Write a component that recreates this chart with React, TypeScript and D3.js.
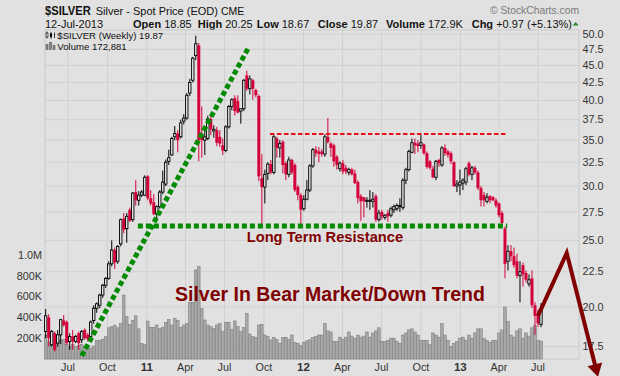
import React from 'react';
import * as d3 from 'd3';

// ---------- data (weekly, $SILVER, week starting Monday) ----------
const firstWeek = Date.UTC(2010, 4, 10);
const opens = [
  18.4, 19.3, 17.6, 18.3, 17.7, 18.2, 19.1, 19.0, 17.8, 18.1, 17.8, 18.3, 17.9, 18.5, 18.2, 18.1, 19.1, 19.9, 20.1, 20.8,
  21.5, 22.0, 23.1, 24.2, 23.3, 24.7, 26.9, 26.0, 27.7, 26.8, 29.4, 28.6, 29.1, 29.1, 31.0, 28.8, 28.4, 27.3, 28.0, 29.4,
  30.2, 32.6, 33.3, 35.4, 35.8, 35.4, 37.3, 37.7, 41.0, 42.8, 46.5, 48.1, 35.5, 35.0, 35.2, 37.6, 36.1, 36.2, 35.4, 34.4,
  33.8, 36.6, 39.2, 40.3, 39.9, 38.6, 38.9, 43.5, 41.6, 42.8, 41.4, 40.6, 30.8, 29.9, 31.3, 32.3, 31.4, 35.2, 34.1, 34.8,
  32.4, 31.2, 32.75, 32.2, 29.9, 29.1, 27.8, 28.7, 29.6, 32.1, 33.9, 33.7, 33.7, 33.4, 35.4, 34.6, 34.4, 33.1, 31.8, 32.4,
  31.9, 31.4, 31.7, 31.3, 30.4, 29.0, 28.9, 28.5, 28.5, 28.5, 29.0, 26.8, 27.5, 27.0, 27.4, 27.2, 27.7, 27.8, 28.0, 27.9,
  30.6, 31.7, 33.6, 34.7, 34.6, 34.4, 34.5, 33.5, 32.6, 31.8, 30.9, 32.75, 32.2, 34.1, 33.7, 33.5, 32.5, 30.0, 30.1, 30.3,
  30.4, 32.4, 31.2, 31.9, 31.4, 29.8, 29.1, 28.5, 29.0, 28.9, 28.6, 28.3, 27.4, 26.0, 23.3, 24.1, 23.7, 23.3, 22.2, 23.0,
  22.4, 21.6, 22.0, 20.1, 19.5, 18.85,
];
const highs = [
  19.85, 19.5, 18.5, 18.4, 18.5, 19.2, 19.45, 19.1, 18.3, 18.5, 18.2, 18.4, 18.5, 18.6, 18.3, 19.1, 20.1, 20.3, 20.9, 21.6,
  22.1, 23.3, 25.0, 24.4, 24.6, 26.9, 27.4, 27.4, 27.9, 29.4, 30.6, 29.5, 29.6, 31.1, 31.1, 29.6, 29.2, 28.1, 29.6, 31.6,
  32.8, 33.9, 35.4, 36.7, 36.2, 37.5, 38.2, 41.0, 43.0, 46.3, 49.7, 48.5, 39.2, 36.5, 38.0, 38.2, 36.8, 36.6, 36.2, 35.2,
  36.8, 39.4, 40.3, 40.7, 40.7, 38.9, 43.0, 44.2, 43.5, 43.0, 41.6, 40.8, 33.4, 31.7, 32.5, 32.75, 35.6, 35.4, 35.0, 35.0,
  32.6, 33.1, 32.9, 32.4, 30.1, 29.3, 29.1, 30.6, 32.3, 34.1, 34.3, 34.2, 34.0, 35.7, 37.7, 34.8, 34.6, 33.3, 32.6, 32.75,
  32.2, 31.9, 31.9, 31.7, 30.6, 29.2, 28.9, 28.9, 29.6, 29.4, 29.2, 27.7, 27.7, 27.3, 27.7, 28.0, 28.2, 28.3, 28.8, 30.8,
  31.9, 33.9, 35.2, 35.2, 35.0, 35.6, 34.6, 33.7, 32.75, 32.1, 32.75, 32.9, 34.3, 34.5, 33.9, 33.7, 32.6, 30.6, 31.7, 30.8,
  32.0, 32.6, 32.1, 32.1, 31.6, 30.0, 29.4, 29.3, 29.1, 29.0, 28.8, 28.4, 27.6, 26.2, 24.6, 24.6, 24.4, 23.9, 23.3, 23.2,
  22.6, 22.3, 22.6, 20.3, 19.8, 20.25,
];
const lows = [
  18.0, 17.5, 17.5, 17.2, 17.5, 17.65, 18.7, 17.6, 17.3, 17.3, 17.7, 17.3, 17.7, 17.9, 17.8, 17.9, 18.9, 19.6, 19.9, 20.6,
  21.3, 21.9, 22.9, 22.7, 23.1, 24.5, 25.6, 24.8, 26.6, 26.6, 28.1, 28.1, 28.9, 29.0, 28.6, 28.1, 27.2, 26.7, 27.8, 29.2,
  30.0, 32.2, 33.2, 35.0, 33.6, 35.2, 36.9, 37.5, 40.6, 42.5, 45.8, 32.6, 33.0, 33.3, 35.0, 35.6, 35.3, 34.3, 34.2, 33.3,
  33.6, 36.4, 38.7, 38.0, 38.3, 37.0, 38.6, 41.3, 40.8, 40.1, 40.4, 30.5, 26.2, 28.3, 30.6, 31.2, 31.2, 33.0, 33.0, 31.3,
  30.6, 30.9, 31.2, 29.4, 28.6, 26.4, 27.6, 28.6, 29.4, 31.9, 33.1, 32.5, 33.1, 33.1, 34.6, 33.1, 32.0, 31.7, 31.5, 31.2,
  31.2, 31.1, 31.1, 30.2, 28.3, 26.7, 27.0, 27.9, 27.7, 27.9, 26.6, 26.6, 26.8, 26.8, 26.6, 27.0, 27.4, 27.6, 27.5, 27.7,
  30.2, 31.5, 33.5, 33.4, 33.6, 34.0, 33.3, 31.8, 31.7, 30.8, 30.6, 32.0, 32.0, 33.2, 33.0, 32.3, 29.9, 29.4, 29.1, 29.6,
  30.1, 31.0, 30.6, 31.2, 29.6, 28.0, 28.0, 28.3, 28.3, 28.5, 27.9, 27.0, 26.2, 22.0, 22.6, 23.3, 22.8, 22.0, 20.3, 21.4,
  21.7, 21.4, 19.9, 18.2, 18.7, 18.67,
];
const closes = [
  19.4, 18.0, 18.4, 17.3, 18.2, 19.15, 18.8, 17.7, 18.1, 17.8, 18.1, 17.7, 18.4, 18.0, 17.95, 19.0, 19.9, 20.2, 20.8, 21.5,
  22.0, 23.1, 24.2, 23.2, 24.5, 26.8, 25.9, 27.1, 26.7, 29.3, 28.6, 29.1, 29.4, 30.9, 28.8, 28.3, 27.3, 28.0, 29.4, 30.4,
  32.5, 33.0, 35.2, 35.8, 35.0, 37.1, 37.7, 40.7, 42.5, 46.1, 48.4, 35.0, 35.0, 35.4, 37.6, 36.3, 36.3, 34.7, 34.6, 33.8,
  36.6, 39.2, 40.1, 38.6, 38.4, 38.9, 42.8, 41.6, 43.0, 41.6, 40.7, 31.0, 29.9, 31.2, 32.3, 31.4, 35.4, 34.1, 34.6, 32.2,
  31.2, 32.75, 31.4, 29.6, 29.1, 27.7, 28.7, 29.6, 32.1, 33.9, 33.5, 33.4, 33.4, 35.4, 34.8, 34.1, 32.6, 32.2, 32.4, 31.5,
  31.5, 31.7, 31.2, 30.3, 28.8, 28.5, 28.5, 28.6, 28.6, 28.7, 26.8, 27.4, 27.1, 27.2, 27.1, 27.8, 28.0, 28.1, 28.1, 30.6,
  31.7, 33.7, 34.7, 34.4, 34.3, 34.7, 33.5, 32.0, 31.9, 30.9, 32.6, 32.4, 34.1, 33.5, 33.3, 32.6, 30.0, 30.2, 30.4, 30.6,
  31.8, 31.2, 31.9, 31.4, 29.8, 28.6, 28.6, 28.9, 28.6, 28.6, 28.1, 27.2, 26.5, 23.1, 24.1, 23.7, 23.0, 22.2, 22.5, 22.3,
  21.9, 21.9, 20.1, 19.4, 18.9, 19.87,
];
// weekly volume, thousands
const volumes = [
  230, 165, 175, 150, 170, 180, 190, 140, 120, 140, 120, 130, 140, 120, 100, 105, 125, 180, 180, 190,
  215, 300, 310, 325, 300, 340, 615, 410, 330, 370, 415, 290, 150, 140, 365, 305, 305, 327, 295, 305,
  350, 380, 327, 390, 370, 305, 327, 343, 545, 545, 856, 888, 487, 375, 327, 311, 295, 327, 343, 263,
  353, 353, 286, 366, 311, 263, 301, 439, 240, 215, 206, 327, 334, 231, 215, 183, 206, 190, 151, 206,
  209, 190, 231, 158, 151, 130, 160, 175, 185, 205, 215, 230, 230, 340, 270, 260, 170, 170, 210, 190,
  210, 260, 220, 200, 230, 210, 220, 260, 210, 250, 270, 300, 170, 170, 180, 200, 200, 170, 150, 230,
  250, 280, 290, 260, 230, 180, 180, 180, 140, 250, 230, 210, 340, 230, 180, 120, 150, 170, 200, 210,
  180, 230, 200, 250, 290, 290, 200, 180, 160, 180, 180, 250, 280, 500, 360, 230, 210, 270, 290, 200,
  250, 220, 300, 320, 180, 173,
];
const priceTicks = [50, 47.5, 45, 42.5, 40, 37.5, 35, 32.5, 30, 27.5, 25, 22.5, 20, 17.5];
const volumeTicks = [200, 400, 600, 800, 1000];
const volumeTickLabels = ['200K', '400K', '600K', '800K', '1.0M'];

// annotations in data space: [date, price]
const supportTrend: [number, number][] = [[Date.UTC(2010, 7, 2), 16.96], [Date.UTC(2011, 7, 27), 47.9]];
const resistanceLine: [number, number][] = [[Date.UTC(2010, 11, 11), 26.24], [Date.UTC(2013, 3, 20), 26.24]];
const topLine: [number, number][] = [[Date.UTC(2011, 9, 15), 35.74], [Date.UTC(2013, 3, 22), 35.74]];
const forecastArrow: [number, number][] = [
  [Date.UTC(2013, 6, 1), 19.4],
  [Date.UTC(2013, 8, 6), 23.96],
  [Date.UTC(2013, 10, 18), 15.8],
];

const BG = '#e1e1e1';
const GRID = '#d0d0d0';
const RED = '#d4003a';
const DARKRED = '#800000';
const GREEN = '#008a00';
const FONT = "'Liberation Sans', Arial, Helvetica, sans-serif";

export default function App() {
  const W = 620, H = 376;
  const left = 45, right = 579, top = 30, bottom = 359;

  const x = d3.scaleUtc().domain([Date.UTC(2010, 6, 1), Date.UTC(2013, 6, 1)]).range([68, 538]);
  const y = d3.scaleLog().domain([17.5, 50]).range([346.5, 34]);
  const yv = d3.scaleLinear().domain([0, 1000]).range([bottom, 255]);

  const dates = opens.map((_, i) => d3.utcDay.offset(new Date(firstWeek), i * 7));
  const monthTicks = d3.utcMonth.every(3)!.range(new Date(Date.UTC(2010, 6, 1)), new Date(Date.UTC(2013, 6, 2)));

  const linePath = d3.line<[number, number]>().x(d => x(new Date(d[0]))).y(d => y(d[1]));

  // arrow geometry
  const ap = forecastArrow.map(d => [x(new Date(d[0])), y(d[1])]);
  const tip = ap[ap.length - 1];
  const prev = ap[ap.length - 2];
  const dx = tip[0] - prev[0], dy = tip[1] - prev[1];
  const len = Math.hypot(dx, dy);
  const ux = dx / len, uy = dy / len;
  const headLen = 13, headW = 7.5;
  const base = [tip[0] - ux * headLen, tip[1] - uy * headLen];
  const head = `M${tip[0]},${tip[1]} L${base[0] - uy * headW},${base[1] + ux * headW} L${base[0] + uy * headW},${base[1] - ux * headW} Z`;
  const shaftPts = [...ap.slice(0, -1), [base[0] + ux * 2, base[1] + uy * 2]];

  return (
    <div style={{ position: 'fixed', left: 0, top: 0, width: W, height: H }}>
      <svg width={W} height={H} style={{ display: 'block' }} fontFamily={FONT}>
        <rect width={W} height={H} fill={BG} />

        {/* header */}
        <text x={45} y={15} fontSize={12} fontWeight="bold" fill="#111" textLength={45.7} lengthAdjust="spacingAndGlyphs">$SILVER</text>
        <text x={95.7} y={15} fontSize={11} fill="#111">Silver - Spot Price (EOD) <tspan fontSize={10.5}>CME</tspan></text>
        <text x={490} y={14} fontSize={11} fill="#7a7a7a" textLength={89} lengthAdjust="spacingAndGlyphs">© StockCharts.com</text>

        <text x={45} y={27.5} fontSize={11} fill="#111">12-Jul-2013</text>
        <text x={133} y={27.5} fontSize={11} fill="#111"><tspan fontWeight="bold">Open</tspan> 18.85</text>
        <text x={197.7} y={27.5} fontSize={11} fill="#111"><tspan fontWeight="bold">High</tspan> 20.25</text>
        <text x={256.7} y={27.5} fontSize={11} fill="#111"><tspan fontWeight="bold">Low</tspan> 18.67</text>
        <text x={317.7} y={27.5} fontSize={11} fill="#111"><tspan fontWeight="bold">Close</tspan> 19.87</text>
        <text x={386} y={27.5} fontSize={11} fill="#111"><tspan fontWeight="bold">Volume</tspan> 172.9K</text>
        <text x={471.7} y={27.5} fontSize={11} fill="#111"><tspan fontWeight="bold">Chg</tspan> +0.97 (+5.13%)</text>
        <path d="M572.7,25.5 L578.7,25.5 L575.7,22 Z" fill="#2a8a2a" />

        {/* grid */}
        {priceTicks.map(t => (
          <line key={'h' + t} x1={left} x2={right} y1={y(t)} y2={y(t)} stroke={GRID} strokeWidth={1} />
        ))}
        {monthTicks.map(t => (
          <line key={'v' + t.getTime()} x1={x(t)} x2={x(t)} y1={top} y2={bottom} stroke={GRID} strokeWidth={1} />
        ))}
        <rect x={left} y={top} width={right - left} height={bottom - top} fill="none" stroke="#cacaca" strokeWidth={1} />

        {/* axes labels */}
        {priceTicks.map(t => (
          <text key={'pl' + t} x={582.5} y={y(t)} dy="0.35em" fontSize={10.8} fill="#333">{t.toFixed(1)}</text>
        ))}
        {volumeTicks.map((t, i) => (
          <text key={'vl' + t} x={42} y={yv(t)} dy="0.35em" fontSize={10.8} fill="#333" textAnchor="end">{volumeTickLabels[i]}</text>
        ))}
        {monthTicks.map(t => {
          const isYear = t.getUTCMonth() === 0;
          return (
            <text key={'ml' + t.getTime()} x={x(t)} y={371} fontSize={isYear ? 11.5 : 10.8} fontWeight={isYear ? 'bold' : 'normal'} fill="#333" textAnchor="middle">
              {isYear ? String(t.getUTCFullYear() % 100).padStart(2, '0') : d3.utcFormat('%b')(t)}
            </text>
          );
        })}

        {/* volume */}
        {volumes.map((v, i) => {
          const cx = x(dates[i]);
          return (
            <rect key={'vb' + i} x={cx - 1.3} width={2.6} y={yv(v)} height={bottom - yv(v)} fill="#a9a9a9" stroke="#7f7f7f" strokeWidth={0.6} />
          );
        })}

        {/* candles */}
        {opens.map((o, i) => {
          const c = closes[i], h = highs[i], l = lows[i];
          const cx = x(dates[i]);
          const up = c >= o;
          const col = up ? '#000' : RED;
          const yTop = y(Math.max(o, c)), yBot = y(Math.min(o, c));
          return (
            <g key={'c' + i}>
              <line x1={cx} x2={cx} y1={y(h)} y2={y(l)} stroke={col} strokeWidth={1} />
              {up ? (
                <rect x={cx - 1.2} width={2.4} y={yTop} height={Math.max(1, yBot - yTop)} fill={BG} stroke="#000" strokeWidth={0.9} />
              ) : (
                <rect x={cx - 1.5} width={3} y={yTop} height={Math.max(1.2, yBot - yTop)} fill={RED} />
              )}
            </g>
          );
        })}

        {/* legend */}
        <g>
          <line x1={47} x2={47} y1={31.5} y2={38.5} stroke="#000" strokeWidth={0.8} />
          <rect x={46} y={33} width={2} height={4} fill={BG} stroke="#000" strokeWidth={0.6} />
          <line x1={51} x2={51} y1={32} y2={39} stroke="#000" strokeWidth={0.8} />
          <rect x={50} y={33.5} width={2} height={3.5} fill="#000" />
          <line x1={54.5} x2={54.5} y1={32.5} y2={38} stroke="#000" strokeWidth={0.8} />
          <text x={57.3} y={39} fontSize={9.6} fill="#111">$SILVER (Weekly) 19.87</text>
          <rect x={46} y={44.5} width={2} height={5} fill="#888" stroke="#444" strokeWidth={0.5} />
          <rect x={49.5} y={42.5} width={2} height={7} fill="#888" stroke="#444" strokeWidth={0.5} />
          <rect x={53} y={45.5} width={2} height={4} fill="#888" stroke="#444" strokeWidth={0.5} />
          <text x={57.3} y={50} fontSize={9.6} fill="#111">Volume 172,881</text>
        </g>

        {/* annotations */}
        <path d={linePath(topLine) || ''} stroke="#e8101a" strokeWidth={2} strokeDasharray="4.5 2.5" fill="none" />
        <path d={linePath(resistanceLine) || ''} stroke={GREEN} strokeWidth={5} strokeDasharray="5 3" fill="none" />
        <path d={linePath(supportTrend) || ''} stroke={GREEN} strokeWidth={5} strokeDasharray="5 3" fill="none" />

        <text x={246.7} y={242} fontSize={14.7} fontWeight="bold" fill={DARKRED}>Long Term Resistance</text>
        <text x={175} y={300.5} fontSize={19.5} fontWeight="bold" fill={DARKRED}>Silver In Bear Market/Down Trend</text>

        <polyline points={shaftPts.map(p => p.join(',')).join(' ')} fill="none" stroke={DARKRED} strokeWidth={4} strokeLinejoin="miter" />
        <path d={head} fill={DARKRED} />
      </svg>
    </div>
  );
}
